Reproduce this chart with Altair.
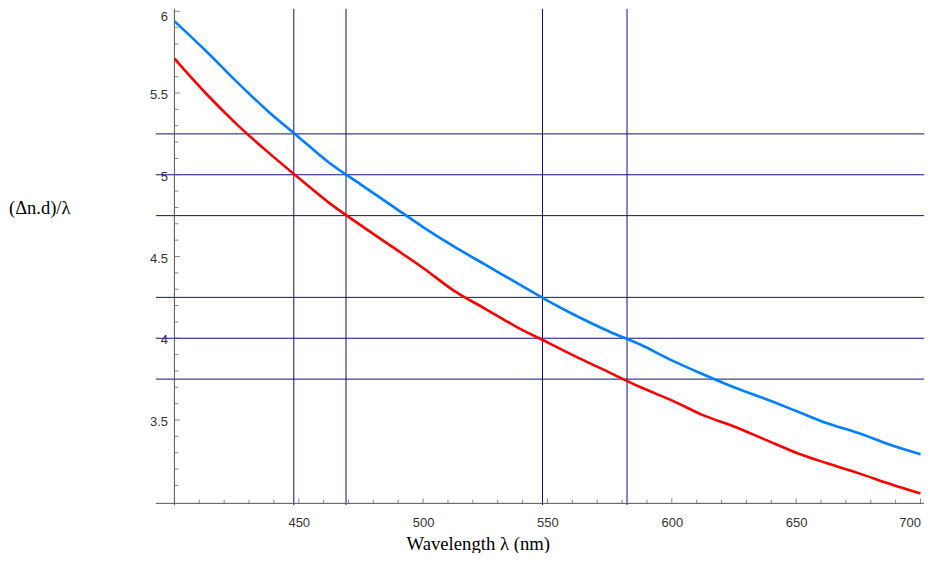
import altair as alt
import pandas as pd

# ---- data ----
wavelength = [400, 412.5, 425, 437.5, 450, 462.5, 475, 487.5, 500, 512.5, 525, 537.5,
              550, 562.5, 575, 587.5, 600, 612.5, 625, 637.5, 650, 662.5, 675, 687.5, 700]
upper_curve = [5.94, 5.76, 5.57, 5.39, 5.23, 5.07, 4.94, 4.81, 4.68, 4.56, 4.45, 4.34,
               4.23, 4.13, 4.04, 3.96, 3.865, 3.78, 3.70, 3.63, 3.555, 3.48, 3.42, 3.35, 3.29]
lower_curve = [5.71, 5.50, 5.31, 5.14, 4.98, 4.825, 4.69, 4.56, 4.43, 4.29, 4.18, 4.07,
               3.975, 3.88, 3.79, 3.70, 3.62, 3.53, 3.46, 3.38, 3.30, 3.235, 3.175, 3.11, 3.05]

vertical_lines = [448, 469, 548, 582]
horizontal_lines = [5.25, 5.0, 4.75, 4.25, 4.0, 3.75]

x_labels = [450, 500, 550, 600, 650, 700]
y_labels = [3.5, 4, 4.5, 5, 5.5, 6]
x_minor = [410, 420, 430, 440, 460, 470, 480, 490, 510, 520, 530, 540, 560, 570, 580, 590,
           610, 620, 630, 640, 660, 670, 680, 690]
y_minor = [3.1, 3.2, 3.3, 3.4, 3.6, 3.7, 3.8, 3.9, 4.1, 4.2, 4.3, 4.4, 4.6, 4.7, 4.8, 4.9,
           5.1, 5.2, 5.3, 5.4, 5.6, 5.7, 5.8, 5.9]

X_MIN, X_MAX = 392.6, 701.4
Y_MIN, Y_MAX = 2.98, 6.02
X_ORIGIN, Y_ORIGIN = 400, 2.99
V_TOP = 6.015

xs = alt.Scale(domain=[X_MIN, X_MAX], nice=False, zero=False)
ys = alt.Scale(domain=[Y_MIN, Y_MAX], nice=False, zero=False)

curves = pd.DataFrame({
    "x": wavelength * 2,
    "y": upper_curve + lower_curve,
    "series": ["upper"] * len(wavelength) + ["lower"] * len(wavelength),
})

hl = pd.DataFrame({"y": horizontal_lines, "x": X_MIN, "x2": X_MAX})
vl = pd.DataFrame({"x": vertical_lines, "y": Y_MIN, "y2": V_TOP})

axis_x_line = pd.DataFrame({"y": [Y_ORIGIN], "x": [X_MIN], "x2": [X_MAX]})
axis_y_line = pd.DataFrame({"x": [X_ORIGIN], "y": [Y_MIN], "y2": [V_TOP]})

y_major_df = pd.DataFrame({"y": y_labels, "x": X_ORIGIN})
y_minor_df = pd.DataFrame({"y": y_minor, "x": X_ORIGIN})
x_major_df = pd.DataFrame({"x": x_labels, "y": Y_ORIGIN})
x_minor_df = pd.DataFrame({"x": x_minor, "y": Y_ORIGIN})

LINE_COL = "#101080"
AXIS_COL = "#555555"

x_axis = alt.Axis(values=x_labels, format="d", domain=False, ticks=False, grid=False,
                  labelFont="Liberation Sans", labelFontSize=13, labelColor="#333333",
                  labelPadding=11, labelFlush=5,
                  title="Wavelength λ (nm)", titleFont="Liberation Serif", titleFontSize=18.7,
                  titleFontWeight="normal", titleColor="#000000", titleAlign="left",
                  titleBaseline="alphabetic", titleX=250, titleY=44)
y_axis = alt.Axis(values=y_labels, format="~g", domain=False, ticks=False, grid=False,
                  labelFont="Liberation Sans", labelFontSize=13, labelColor="#333333",
                  labelPadding=7, offset=-18.5, labelOffset=1.5,
                  labelFlush=5, labelFlushOffset=2.5,
                  title="(Δn.d)/λ", titleFont="Liberation Serif", titleFontSize=18.5,
                  titleFontWeight="normal", titleColor="#000000", titleAngle=0,
                  titleAlign="left", titleBaseline="alphabetic", titleX=-166, titleY=205)


def X(field="x"):
    return alt.X(f"{field}:Q", scale=xs, axis=x_axis)


def Y(field="y"):
    return alt.Y(f"{field}:Q", scale=ys, axis=y_axis)


h_rules = alt.Chart(hl).mark_rule(color=LINE_COL, strokeWidth=1).encode(
    x=X(), x2="x2:Q", y=Y())
v_rules = alt.Chart(vl).mark_rule(color=LINE_COL, strokeWidth=1).encode(
    x=X(), y=Y(), y2="y2:Q")

ax_x = alt.Chart(axis_x_line).mark_rule(color=AXIS_COL, strokeWidth=1).encode(
    x=X(), x2="x2:Q", y=Y())
ax_y = alt.Chart(axis_y_line).mark_rule(color=AXIS_COL, strokeWidth=1).encode(
    x=X(), y=Y(), y2="y2:Q")

yt_major = alt.Chart(y_major_df).mark_tick(orient="horizontal", size=5.5, thickness=1,
                                           color=AXIS_COL, xOffset=2.75).encode(x=X(), y=Y())
yt_minor = alt.Chart(y_minor_df).mark_tick(orient="horizontal", size=4, thickness=1,
                                           color=AXIS_COL, xOffset=2).encode(x=X(), y=Y())
xt_major = alt.Chart(x_major_df).mark_tick(orient="vertical", size=5, thickness=1,
                                           color=AXIS_COL, yOffset=-2.5).encode(x=X(), y=Y())
xt_minor = alt.Chart(x_minor_df).mark_tick(orient="vertical", size=3.5, thickness=1,
                                           color=AXIS_COL, yOffset=-1.75).encode(x=X(), y=Y())

lines = alt.Chart(curves).mark_line(strokeWidth=2.6, interpolate="monotone").encode(
    x=X(), y=Y(),
    color=alt.Color("series:N", scale=alt.Scale(domain=["upper", "lower"],
                                                range=["#0080ff", "#ff0000"]), legend=None),
)

chart = alt.layer(h_rules, v_rules, ax_x, ax_y, yt_major, yt_minor, xt_major, xt_minor, lines).properties(
    width=768, height=497,
    autosize=alt.AutoSizeParams(type="none"),
    padding={"left": 148, "top": 0, "right": 0, "bottom": 48},
    background="white",
).configure_view(stroke=None)

chart.save("out.html", embed_options={"renderer": "svg", "actions": False})
